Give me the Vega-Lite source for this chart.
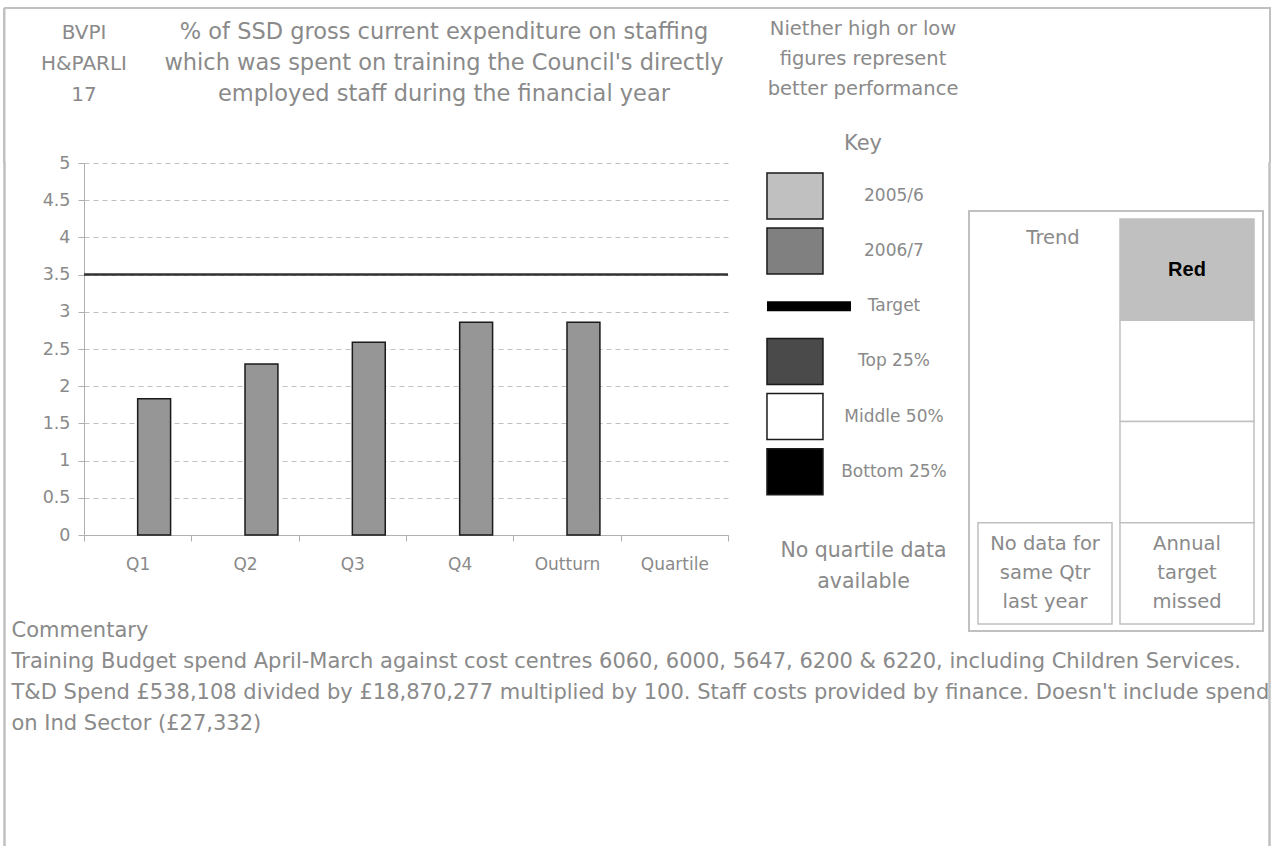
{
  "$schema": "https://vega.github.io/schema/vega-lite/v6.json",
  "padding": {"left": 3, "top": 7, "right": 0, "bottom": 0},
  "background": "white",
  "bounds": "flush",
  "spacing": 0,
  "config": {
    "font": "DejaVu Sans",
    "view": {"stroke": null},
    "title": {"font": "DejaVu Sans", "fontWeight": "normal", "color": "#8a8a8a", "subtitleFont": "DejaVu Sans", "subtitleColor": "#8a8a8a", "subtitleFontWeight": "normal"},
    "axis": {"labelFont": "DejaVu Sans", "titleFont": "DejaVu Sans"}
  },
  "datasets": {
    "bars": [
      {"period": "Q1", "series": "2006/7", "value": 1.83},
      {"period": "Q2", "series": "2006/7", "value": 2.30},
      {"period": "Q3", "series": "2006/7", "value": 2.59},
      {"period": "Q4", "series": "2006/7", "value": 2.86},
      {"period": "Outturn", "series": "2006/7", "value": 2.86}
    ],
    "target": [{"target": 3.5}],
    "key": [
      {"item": "2005/6"}, {"item": "2006/7"}, {"item": "Target"},
      {"item": "Top 25%"}, {"item": "Middle 50%"}, {"item": "Bottom 25%"}
    ],
    "trendBox": [{"box": "trend"}],
    "trendCells": [
      {"col": "right", "row": "r1", "rating": "Red"},
      {"col": "right", "row": "r2", "rating": "blank"},
      {"col": "right", "row": "r3", "rating": "blank"},
      {"col": "left", "row": "r4", "rating": "blank"},
      {"col": "right", "row": "r4", "rating": "blank"}
    ],
    "trendHead": [{"col": "left", "row": "r1", "text": "Trend"}],
    "trendRating": [{"col": "right", "row": "r1", "text": "Red"}],
    "trendNotes": [
      {"col": "left", "row": "r4", "text": ["No data for", "same Qtr", "last year"]},
      {"col": "right", "row": "r4", "text": ["Annual", "target", "missed"]}
    ]
  },
  "vconcat": [
    {
      "width": 1266, "height": 155,
      "data": {"values": []}, "mark": "point",
      "encoding": {
        "y": {"datum": 0, "type": "quantitative", "axis": {"title": null, "labels": false, "ticks": false, "grid": false, "domainColor": "#c0c0c0", "domainWidth": 2}}
      },
      "view": {"stroke": "#c0c0c0", "strokeWidth": 2, "strokeDash": [1421, 1266, 155, 0]}
    },
    {
      "bounds": "flush",
      "spacing": 0,
      "hconcat": [
        {"width": 1, "height": 691, "data": {"values": []}, "mark": "point", "view": {"stroke": "#c0c0c0", "strokeWidth": 1.5}},
        {
          "width": 79, "height": 450,
          "data": {"values": []}, "mark": "point",
          "title": {"text": ["BVPI", "H&PARLI", "17"], "orient": "top", "anchor": "end", "frame": "group", "align": "center", "offset": 58.5, "fontSize": 20, "lineHeight": 31}
        },
        {
          "width": 644, "height": 372,
          "title": {
            "text": ["% of SSD gross current expenditure on staffing", "which was spent on training the Council's directly", "employed staff during the financial year"],
            "anchor": "middle", "frame": "group", "dx": 38, "offset": 49, "fontSize": 22.5, "lineHeight": 31
          },
          "layer": [
            {
              "data": {"name": "bars"},
              "mark": {"type": "bar", "fill": "#969696", "stroke": "#1a1a1a", "strokeWidth": 1.5},
              "encoding": {
                "x": {
                  "field": "period", "type": "nominal", "sort": null,
                  "scale": {"domain": ["Q1", "Q2", "Q3", "Q4", "Outturn", "Quartile"], "paddingInner": 0, "paddingOuter": 0},
                  "axis": {
                    "tickBand": "extent", "labelAngle": 0, "labelFontSize": 17, "labelColor": "#8a8a8a", "labelPadding": 15, "tickSize": 6, "tickColor": "#b0b0b0", "domainColor": "#b0b0b0", "grid": false,
                    "title": ["Commentary", "Training Budget spend April-March against cost centres 6060, 6000, 5647, 6200 & 6220, including Children Services.", "T&D Spend £538,108 divided by £18,870,277 multiplied by 100. Staff costs provided by finance. Doesn't include spend", "on Ind Sector (£27,332)"],
                    "titleX": -73, "titleY": 84.5, "titleAlign": "left", "titleAnchor": "start", "titleBaseline": "top", "titleAngle": 0,
                    "titleFontSize": 21, "titleFontWeight": "normal", "titleColor": "#8a8a8a", "titleLineHeight": 31
                  }
                },
                "xOffset": {
                  "field": "series", "type": "nominal",
                  "scale": {"domain": ["2005/6", "2006/7"], "paddingInner": 0, "paddingOuter": 0.63}
                },
                "y": {
                  "field": "value", "type": "quantitative",
                  "scale": {"domain": [0, 5], "nice": false},
                  "axis": {"title": null, "values": [0, 0.5, 1, 1.5, 2, 2.5, 3, 3.5, 4, 4.5, 5], "tickCount": 20, "labelOverlap": false, "format": "~g", "labelFontSize": 17.5, "labelColor": "#8a8a8a", "labelPadding": 8, "tickSize": 6, "tickColor": "#b0b0b0", "domainColor": "#b0b0b0", "grid": true, "gridColor": "#c0c0c0", "gridDash": [5, 4], "gridWidth": 1}
                }
              }
            },
            {
              "data": {"name": "target"},
              "mark": {"type": "rule", "stroke": "#333333", "strokeWidth": 2.5},
              "encoding": {
                "y": {
                  "field": "target", "type": "quantitative",
                  "axis": {"title": null, "values": [0, 0.5, 1, 1.5, 2, 2.5, 3, 3.5, 4, 4.5, 5], "tickCount": 20, "labelOverlap": false, "format": "~g", "labelFontSize": 17.5, "labelColor": "#8a8a8a", "labelPadding": 8, "tickSize": 6, "tickColor": "#b0b0b0", "domainColor": "#b0b0b0", "grid": true, "gridColor": "#c0c0c0", "gridDash": [5, 4], "gridWidth": 1}
                }
              }
            }
          ]
        },
        {"width": 29, "height": 1, "data": {"values": []}, "mark": "point"},
        {
          "width": 212, "height": 336,
          "data": {"name": "key"},
          "title": {
            "text": ["Niether high or low", "figures represent", "better performance"],
            "subtitle": "Key",
            "anchor": "middle", "frame": "group", "offset": 8, "fontSize": 19.5, "lineHeight": 30,
            "subtitleFontSize": 21, "subtitlePadding": 34
          },
          "encoding": {
            "y": {"field": "item", "type": "nominal", "sort": null, "scale": {"domain": ["2005/6", "2006/7", "Target", "Top 25%", "Middle 50%", "Bottom 25%"], "paddingInner": 0.167, "paddingOuter": 0.1285, "align": 0.7}, "axis": null}
          },
          "layer": [
            {
              "transform": [{"filter": "datum.item !== 'Target'"}],
              "mark": {"type": "rect", "stroke": "#1a1a1a", "strokeWidth": 1.5},
              "encoding": {
                "x": {
                  "datum": "symbol", "type": "nominal",
                  "scale": {"domain": ["symbol", "label"], "paddingInner": 0.4343, "paddingOuter": 0.288, "align": 0.175},
                  "axis": {"orient": "bottom", "labels": false, "ticks": false, "domain": false, "grid": false, "title": ["No quartile data", "available"], "titleFontSize": 20.5, "titleColor": "#8a8a8a", "titleFontWeight": "normal", "titleLineHeight": 31, "titlePadding": 41}
                },
                "fill": {
                  "field": "item", "type": "nominal",
                  "scale": {"domain": ["2005/6", "2006/7", "Top 25%", "Middle 50%", "Bottom 25%"], "range": ["#c0c0c0", "#808080", "#4a4a4a", "#ffffff", "#000000"]},
                  "legend": null
                }
              }
            },
            {
              "transform": [{"filter": "datum.item === 'Target'"}],
              "mark": {"type": "rect", "fill": "#000000", "width": 84, "height": 10, "xOffset": 14},
              "encoding": {
                "x": {"datum": "symbol", "type": "nominal", "axis": {"orient": "bottom", "labels": false, "ticks": false, "domain": false, "grid": false, "title": ["No quartile data", "available"], "titleFontSize": 20.5, "titleColor": "#8a8a8a", "titleFontWeight": "normal", "titleLineHeight": 31, "titlePadding": 41}}
              }
            },
            {
              "mark": {"type": "text", "fontSize": 17, "color": "#8a8a8a", "align": "center", "baseline": "middle"},
              "encoding": {
                "x": {"datum": "label", "type": "nominal", "axis": {"orient": "bottom", "labels": false, "ticks": false, "domain": false, "grid": false, "title": ["No quartile data", "available"], "titleFontSize": 20.5, "titleColor": "#8a8a8a", "titleFontWeight": "normal", "titleLineHeight": 31, "titlePadding": 41}},
                "text": {"field": "item", "type": "nominal"}
              }
            }
          ]
        },
        {
          "width": 294, "height": 468,
          "resolve": {"scale": {"y": "independent"}},
          "layer": [
            {
              "data": {"name": "trendBox"},
              "mark": {"type": "rect", "fill": "#ffffff", "stroke": "#c0c0c0", "strokeWidth": 2},
              "encoding": {
                "y": {"field": "box", "type": "nominal", "scale": {"domain": ["trend"], "paddingInner": 0, "paddingOuter": 0.0571, "align": 1}, "axis": null}
              }
            },
            {
              "encoding": {
                "x": {"field": "col", "type": "nominal", "scale": {"domain": ["left", "right"], "paddingInner": 0.0563, "paddingOuter": 0.0634}, "axis": null},
                "y": {"field": "row", "type": "nominal", "scale": {"domain": ["r1", "r2", "r3", "r4"], "paddingInner": 0, "paddingOuter": 0.311, "align": 0.889}, "axis": null}
              },
              "layer": [
                {
                  "data": {"name": "trendCells"},
                  "mark": {"type": "rect", "stroke": "#c0c0c0", "strokeWidth": 1.5},
                  "encoding": {"fill": {"condition": {"test": "datum.rating === 'Red'", "value": "#c0c0c0"}, "value": "#ffffff"}}
                },
                {
                  "data": {"name": "trendHead"},
                  "mark": {"type": "text", "fontSize": 19.5, "color": "#8a8a8a", "align": "center", "baseline": "middle"},
                  "encoding": {
                    "x": {"field": "col", "type": "nominal", "bandPosition": 0.56},
                    "y": {"field": "row", "type": "nominal", "bandPosition": 0.19},
                    "text": {"field": "text", "type": "nominal"}
                  }
                },
                {
                  "data": {"name": "trendRating"},
                  "mark": {"type": "text", "font": "Liberation Sans", "fontWeight": "bold", "fontSize": 20, "color": "#000000", "align": "center", "baseline": "middle"},
                  "encoding": {"text": {"field": "text", "type": "nominal"}}
                },
                {
                  "data": {"name": "trendNotes"},
                  "mark": {"type": "text", "fontSize": 19.5, "lineHeight": 29, "color": "#8a8a8a", "align": "center", "baseline": "middle"},
                  "encoding": {
                    "y": {"field": "row", "type": "nominal", "bandPosition": 0.21},
                    "text": {"field": "text", "type": "nominal"}
                  }
                }
              ]
            }
          ]
        },
        {"width": 6, "height": 1, "data": {"values": []}, "mark": "point"},
        {"width": 1, "height": 691, "data": {"values": []}, "mark": "point", "view": {"stroke": "#c0c0c0", "strokeWidth": 1.5}}
      ]
    }
  ]
}
